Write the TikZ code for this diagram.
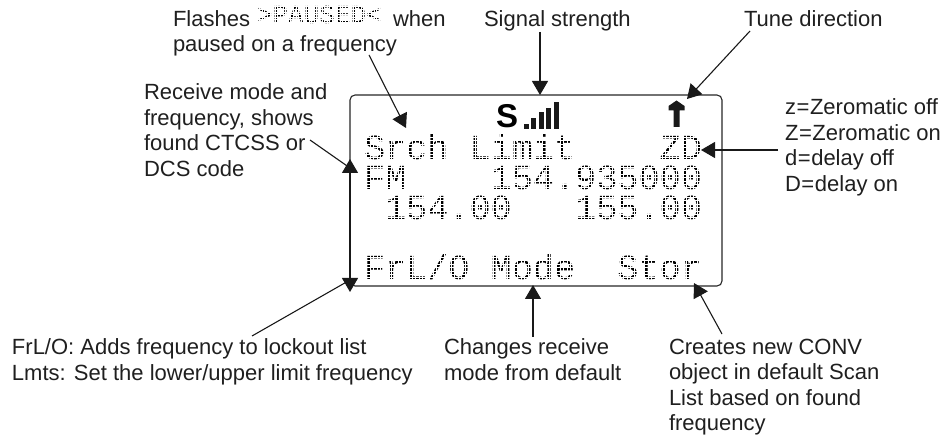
\documentclass[tikz,border=0pt]{standalone}
\usepackage{fontspec}
\setmainfont{Liberation Sans}
\newfontfamily\lcdfont{Liberation Mono}
\usetikzlibrary{arrows.meta}
\tikzset{
  lab/.style={inner sep=0pt,outer sep=0pt,align=left,anchor=north west,font=\fontsize{22}{25.4}\selectfont,text=black!88},
  one/.style={inner sep=0pt,outer sep=0pt,anchor=base west,font=\fontsize{22}{25.4}\selectfont,text=black!88},
  lcd/.style={inner sep=0pt,outer sep=0pt,anchor=base west,font=\lcdfont\fontsize{35.2}{35.2}\selectfont,text=black},
  lcdsmall/.style={inner sep=0pt,outer sep=0pt,anchor=base west,font=\lcdfont\fontsize{26}{26}\selectfont,text=black},
  wire/.style={line width=1.1pt,draw=black!90},
  conn/.style={wire,-{Triangle[length=14pt,width=16pt]}},
  both/.style={wire,{Triangle[length=14pt,width=16pt]}-{Triangle[length=14pt,width=16pt]}},
  frame/.style={line width=1.1pt,draw=black!85,rounded corners=5pt},
  gridline/.style={white,line width=.9pt},
}
\begin{document}
\begin{tikzpicture}[x=1pt,y=-1pt]
\useasboundingbox (0,0) rectangle (948,438);
% display frame
\draw[frame] (350,95) rectangle (722,286);
% lcd rows
\node[lcd] (row1) at (364,160) {Srch~Limit~~~~ZD};
\node[lcd] (row2) at (364,190) {FM~~~~154.935000};
\node[lcd] (row3) at (364,220) {~154.00~~~155.00};
\node[lcd] (row4) at (364,280) {FrL/O~Mode~~Stor};
% top labels
\node[one] (fl) at (173,27) {Flashes};
\node[lcdsmall] (pa) at (257,24) {>PAUSED<};
\node[one] (wh) at (393,27) {when};
\node[one] (fl2) at (173,52) {paused on a frequency};
% dot matrix screen over lcd text
\foreach \ya/\yb in {134/163,164/193,194/223,254/283}{
  \foreach \i in {0,...,96}{
    \draw[gridline] ({363+\i*3.52},\ya) -- ({363+\i*3.52},\yb);
  }
  \foreach \j in {0,...,8}{
    \draw[gridline] (361,{\yb-1.6-\j*3.45}) -- (706,{\yb-1.6-\j*3.45});
  }
}
\foreach \i in {0,...,50}{
  \draw[gridline,line width=.7pt] ({257+\i*2.6},4) -- ({257+\i*2.6},30);
}
\foreach \j in {0,...,9}{
  \draw[gridline,line width=.7pt] (257,{24.9-\j*2.6}) -- (388,{24.9-\j*2.6});
}
% status icons
\node[inner sep=0pt,anchor=base west,font=\bfseries\fontsize{33}{33}\selectfont] (sig) at (496,128) {S};
\foreach \bx/\by in {523.5/124,531/118,538.5/112,546/108.5,554/102.5}{
  \fill[black!90] (\bx,\by) rectangle ++(5.2,{129-\by});
}
\fill[black!90] (673.5,127) -- (673.5,110.5) -- (668.5,110.5) -- (668.5,106) -- (676.5,100.5) -- (684.5,106) -- (684.5,110.5) -- (679.5,110.5) -- (679.5,127) -- cycle;
% labels
\node[one] (sg) at (484,27) {Signal strength};
\node[one] (tu) at (744,27) {Tune direction};
\node[lab] (rc) at (144,84) {Receive mode and\\frequency, shows\\found CTCSS or\\DCS code};
\node[lab] (ze) at (785,99) {z\kern.6pt=\kern.6pt Zeromatic off\\Z\kern.6pt=\kern.6pt Zeromatic on\\d\kern.6pt=\kern.6pt delay off\\D\kern.6pt=\kern.6pt delay on};
\node[lab] (lo) at (12,339) {FrL/O: Adds frequency to lockout list\\Lmts: Set the lower/upper limit frequency};
\node[lab] (mo) at (444,339) {Changes receive\\mode from default};
\node[lab] (st) at (669,339) {Creates new CONV\\object in default Scan\\List based on found\\frequency};
% connector anchors
\coordinate (a1) at (369,55);  \coordinate (b1) at (406,128);
\coordinate (a2) at (540,32);  \coordinate (b2) at (540,95);
\coordinate (a3) at (750,31);  \coordinate (b3) at (687,99);
\coordinate (a4) at (778,150); \coordinate (b4) at (701,150);
\coordinate (a5) at (310,140); \coordinate (b5) at (350,168);
\coordinate (up) at (350,159); \coordinate (dn) at (350,292);
\coordinate (a6) at (252,336); \coordinate (b6) at (350,280);
\coordinate (a7) at (533,337); \coordinate (b7) at (533,285);
\coordinate (a8) at (722,334); \coordinate (b8) at (694,283);
% connectors
\draw[conn] (a1) -- (b1);
\draw[conn] (a2) -- (b2);
\draw[conn] (a3) -- (b3);
\draw[conn] (a4) -- (b4);
\draw[wire] (a5) -- (b5);
\draw[both] (up) -- (dn);
\draw[wire] (a6) -- (b6);
\draw[conn] (a7) -- (b7);
\draw[conn] (a8) -- (b8);
\end{tikzpicture}
\end{document}
